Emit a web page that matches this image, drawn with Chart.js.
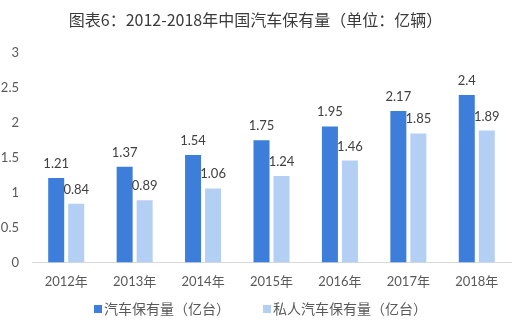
<!DOCTYPE html>
<html>
<head>
<meta charset="utf-8">
<script src="https://cdn.jsdelivr.net/npm/chart.js@4/dist/chart.umd.min.js"></script>
<style>
  html, body { margin: 0; padding: 0; background: #ffffff; }
  #wrap { width: 521px; height: 336px; }
</style>
</head>
<body>
<div id="wrap"><canvas id="c" width="521" height="336"></canvas></div>
<script>
// 2012-2018 vehicle stock in China (units: 100 million)
const categories = ['2012年', '2013年', '2014年', '2015年', '2016年', '2017年', '2018年'];
const totalCars = [1.21, 1.37, 1.54, 1.75, 1.95, 2.17, 2.4];
const privateCars = [0.84, 0.89, 1.06, 1.24, 1.46, 1.85, 1.89];
const seriesNames = ['汽车保有量（亿台）', '私人汽车保有量（亿台）'];
const yTickLabels = ['0', '0.5', '1', '1.5', '2', '2.5', '3'];

const NUM_FONT = "Lato, 'Noto Sans CJK SC', sans-serif";
const CJK_FONT = "'Noto Sans CJK SC', 'Noto Sans', sans-serif";

// Value labels above each bar
const valueLabels = {
  id: 'valueLabels',
  afterDatasetsDraw(chart) {
    const ctx = chart.ctx;
    ctx.save();
    ctx.font = '13px ' + NUM_FONT;
    ctx.fillStyle = '#404040';
    ctx.textAlign = 'center';
    ctx.textBaseline = 'alphabetic';
    chart.data.datasets.forEach((ds, di) => {
      const meta = chart.getDatasetMeta(di);
      meta.data.forEach((bar, i) => {
        ctx.fillText(String(ds.data[i]), bar.x, bar.y - 10);
      });
    });
    ctx.restore();
  }
};

// Compact legend drawn under the axis
const bottomLegend = {
  id: 'bottomLegend',
  afterDraw(chart) {
    const ctx = chart.ctx;
    ctx.save();
    ctx.font = '14px ' + CJK_FONT;
    const box = 8, gapBoxText = 2, gapItems = 33;
    const items = chart.data.datasets.map(ds => ({
      text: ds.label, color: ds.backgroundColor, w: ctx.measureText(ds.label).width
    }));
    const total = items.reduce((s, it) => s + box + gapBoxText + it.w, 0) + gapItems * (items.length - 1);
    let x = (chart.width - total) / 2;
    const cy = 309;
    ctx.textBaseline = 'middle';
    ctx.textAlign = 'left';
    items.forEach(it => {
      ctx.fillStyle = it.color;
      ctx.fillRect(x, cy - box / 2, box, box);
      x += box + gapBoxText;
      ctx.fillStyle = '#595959';
      ctx.fillText(it.text, x, cy);
      x += it.w + gapItems;
    });
    ctx.restore();
  }
};

new Chart(document.getElementById('c'), {
  type: 'bar',
  data: {
    labels: categories,
    datasets: [
      { label: seriesNames[0], data: totalCars, backgroundColor: '#3d7edb',
        categoryPercentage: 0.585, barPercentage: 0.8 },
      { label: seriesNames[1], data: privateCars, backgroundColor: '#b4cff4',
        categoryPercentage: 0.585, barPercentage: 0.8 }
    ]
  },
  options: {
    responsive: false,
    animation: false,
    layout: { padding: { left: 0, right: 10, top: 0, bottom: 34 } },
    plugins: {
      legend: { display: false },
      tooltip: { enabled: false },
      title: {
        display: true,
        text: '图表6：2012-2018年中国汽车保有量（单位：亿辆）',
        color: '#3a3a3a',
        font: { family: CJK_FONT, size: 16, weight: 'normal' },
        padding: { top: 10, bottom: 24 }
      }
    },
    scales: {
      x: {
        grid: { display: false, drawTicks: false },
        border: { display: true, color: '#d9d9d9', width: 1 },
        ticks: { color: '#595959', padding: 12, font: { family: NUM_FONT, size: 13 } }
      },
      y: {
        min: 0, max: 3,
        grid: { display: false, drawTicks: false },
        border: { display: false },
        afterFit(scale) { scale.width = 32; },
        ticks: {
          stepSize: 0.5,
          padding: 13,
          color: '#595959',
          font: { family: NUM_FONT, size: 13 },
          callback: (v, i) => yTickLabels[i]
        }
      }
    }
  },
  plugins: [valueLabels, bottomLegend]
});
</script>
</body>
</html>
